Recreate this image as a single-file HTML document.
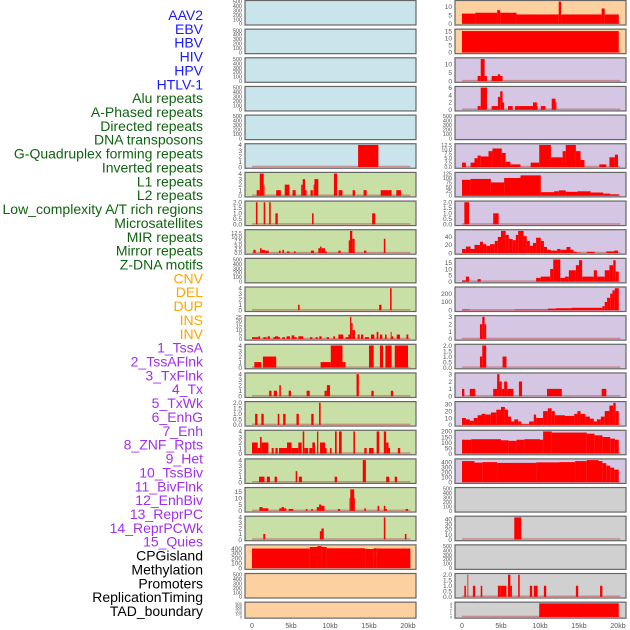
<!DOCTYPE html>
<html><head><meta charset="utf-8"><style>
html,body{margin:0;padding:0;background:#fff;}
svg{display:block;font-family:"Liberation Sans",sans-serif;}
</style></head><body>
<svg id="chart" width="630" height="630" viewBox="0 0 630 630" xmlns="http://www.w3.org/2000/svg"></svg>
<script>
// ---- data ----
const trackLabels = ["AAV2","EBV","HBV","HIV","HPV","HTLV-1","Alu repeats","A-Phased repeats","Directed repeats","DNA transposons","G-Quadruplex forming repeats","Inverted repeats","L1 repeats","L2 repeats","Low_complexity A/T rich regions","Microsatellites","MIR repeats","Mirror repeats","Z-DNA motifs","CNV","DEL","DUP","INS","INV","1_TssA","2_TssAFlnk","3_TxFlnk","4_Tx","5_TxWk","6_EnhG","7_Enh","8_ZNF_Rpts","9_Het","10_TssBiv","11_BivFlnk","12_EnhBiv","13_ReprPC","14_ReprPCWk","15_Quies","CPGisland","Methylation","Promoters","ReplicationTiming","TAD_boundary"];
const labelGroups = [6,13,5,15,5];
const labelColors = ["#1a1aff","#0f640f","#ffa500","#a030f0","#000000"];
const xTickLabels = ["0","5kb","10kb","15kb","20kb"];
const xTickValues = [0,5,10,15,20];
const t500 = [0,100,200,300,400,500];
const t4 = [0,1,2,3,4];
const t2 = [0,0.5,1.0,1.5,2.0];
// segments: [startKb, endKb, value]
const L5 = [[13.6,16.2,4]];
const L6 = [[0.6,1.0,1],[1.0,1.5,4],[1.5,1.6,2],[3.1,3.7,1],[4.2,4.8,2],[5.2,5.6,1],[6.3,6.5,2],[6.5,6.8,3],[6.8,7.0,1],[7.5,7.8,1],[7.9,8.0,2],[8.0,8.5,3],[10.5,10.9,4],[11.1,11.6,1],[12.9,13.2,1],[14.3,14.7,1],[16.5,17.9,1],[18.5,19.1,1]];
const L7 = [[0.5,0.7,2],[1.5,1.7,2],[2.2,2.4,2],[3.0,3.3,1],[7.7,7.9,1],[15.4,15.8,1]];
const L8 = [[0.17,0.47,2],[1.03,1.24,3],[1.24,1.67,2],[1.67,2.14,1.5],[3.46,3.67,1.5],[3.9,4.1,2],[4.49,4.8,1],[5.38,5.6,1],[7.56,7.95,1.5],[8.5,8.72,3],[8.72,8.93,4],[8.93,9.36,3],[9.36,9.6,1],[11.07,11.37,1.5],[12.4,12.56,8],[12.56,12.86,14],[12.86,13.16,9],[14.36,14.66,1.5],[16.9,17.1,9]];
const L10 = [[5.9,6.1,1],[16.3,16.6,1],[17.7,17.9,4]];
const L11 = [[0,0.81,2],[0.81,1.03,3],[1.45,1.88,2],[2.0,2.3,3],[2.74,2.95,2],[2.95,3.38,3],[3.38,3.59,2],[3.89,4.23,2],[4.44,4.87,3],[5.08,5.43,4],[5.43,5.73,2],[5.94,6.58,3],[7.44,7.74,2],[8.16,8.42,2],[8.63,8.93,3],[9.57,9.87,2],[10.43,10.64,3],[11.07,11.71,5],[12.0,12.35,2],[12.35,12.56,5],[12.56,12.73,25],[12.73,12.9,18],[12.9,13.2,10],[13.55,13.8,5],[13.97,14.27,5],[14.48,15.0,2],[15.25,15.68,5],[15.98,16.2,8],[16.4,16.7,5],[17.05,17.26,5],[17.78,17.9,8],[17.9,18.12,3],[18.55,18.97,5],[19.8,20.04,5]];
const L12 = [[0.3,1.2,1],[1.4,2.7,2],[2.7,3.1,2],[8.8,10.1,1],[10.1,11.6,4],[11.6,12.0,1],[15.0,15.6,4],[16.4,16.8,4],[17.1,17.9,4],[18.3,20.0,4]];
const L13 = [[2.2,2.5,1],[2.8,3.2,1],[3.5,3.7,2],[4.7,5.0,1],[7.0,7.4,1],[9.3,9.6,1],[9.6,10.0,2],[13.4,13.7,4],[15.3,15.6,1],[17.8,18.1,1]];
const L14 = [[0.4,0.7,1],[1.2,1.5,1],[3.3,3.5,1],[4.0,4.3,1],[5.7,6.0,1],[7.6,7.9,1],[8.6,8.8,2]];
const L15 = [[0,0.73,2],[0.73,1.03,1],[1.03,1.24,3],[1.24,2.1,2],[2.52,2.78,1],[3.0,3.3,1],[3.46,4.49,1],[4.49,5.08,2],[5.08,5.94,1],[5.94,6.37,2],[6.5,6.7,4],[6.7,7.2,1],[7.35,7.74,1],[7.74,8.08,2],[8.34,8.5,4],[8.72,9.36,2],[9.36,9.57,1],[9.99,10.2,1],[10.64,10.86,4],[11.15,11.5,4],[13.0,13.2,4],[14.4,14.7,1],[15.0,15.6,1],[15.98,16.3,4],[16.9,17.2,4],[17.2,17.5,2],[17.5,17.7,1],[18.7,19.0,1]];
const L16 = [[0.9,1.6,1],[1.9,2.3,1],[2.9,3.2,1],[5.6,5.8,2],[6.0,6.4,1],[10.6,10.9,1],[14.2,14.6,4],[17.2,17.6,1],[18.3,18.6,1]];
const L17 = [[0.95,1.35,3],[1.35,2.1,2],[3.5,3.8,2],[3.8,4.1,3],[4.1,4.4,2],[4.7,5.3,1.5],[6.9,7.1,1.5],[7.6,7.8,1.5],[8.3,8.6,3],[8.6,8.9,5],[8.9,9.3,4],[11.0,11.3,1.5],[12.5,12.6,10],[12.6,13.1,17],[13.1,13.2,10],[14.4,14.6,2],[16.1,16.3,4],[16.9,17.1,4],[17.1,17.3,1.5],[19.7,20.0,1.5]];
const L18 = [[1.45,1.7,1],[8.7,8.9,1.5],[8.9,9.2,2],[16.9,17.1,4],[19.6,19.8,1]];
const L19 = [[0,7.4,400],[7.4,8.4,430],[8.4,8.9,450],[8.9,9.6,430],[9.6,14.5,405],[14.5,15.6,390],[15.6,16.0,405],[16.0,20.3,400]];
const R0 = [[0,1.7,6],[1.7,4.5,6.5],[4.5,4.9,8],[4.9,7.0,6.5],[7.0,12.4,5.5],[12.4,12.7,13],[12.7,17.9,5.5],[17.9,18.3,9],[18.3,20.1,5.5]];
const R1 = [[0,20.1,15]];
const R2 = [[2.0,2.4,3],[2.4,2.9,13],[2.9,3.2,3],[3.8,4.6,3],[4.6,4.9,4],[4.9,5.2,3]];
const R3 = [[2.0,2.4,1],[2.4,3.2,6],[3.8,4.6,1],[4.6,4.9,3.5],[4.9,5.2,5],[5.2,5.4,2],[5.9,6.5,1],[6.8,9.7,1],[9.1,9.6,2],[10.1,10.7,1],[11.5,12.0,3],[12.0,12.1,2]];
const R5 = [[0,0.5,2.5],[1.1,1.6,2.5],[1.6,2.0,5],[2.0,2.4,6.5],[2.4,3.4,6],[3.4,3.9,9],[3.9,5.1,10.5],[5.1,5.6,8],[5.6,6.2,3],[6.2,7.5,1.5],[8.8,9.9,2.5],[9.9,11.4,12.5],[11.4,12.9,5.5],[12.9,13.3,9],[13.3,14.6,12.5],[14.6,15.2,9],[15.2,15.7,4],[17.6,18.5,1.5],[18.9,19.6,5.5],[19.6,20.0,7]];
const R6 = [[0,1.1,90],[1.1,3.7,95],[3.7,5.4,75],[5.4,7.5,100],[7.5,10.1,115],[10.1,11.8,20],[11.8,12.4,25],[12.4,13.3,30],[13.3,14.8,22],[14.8,16.5,25],[16.5,18.1,18],[18.1,19.0,12],[19.0,20.1,8]];
const R7 = [[0.3,0.9,2],[4.0,4.7,1]];
const R8 = [[0,0.5,10],[0.5,1.1,16],[1.1,1.6,10],[1.6,2.3,20],[2.3,2.7,28],[2.7,3.1,22],[3.1,3.6,18],[3.6,4.2,22],[4.2,4.6,30],[4.6,5.0,40],[5.0,5.6,55],[5.6,6.0,45],[6.0,6.5,35],[6.5,6.9,32],[6.9,7.2,45],[7.2,7.9,55],[7.9,8.3,42],[8.3,8.7,30],[8.7,9.1,18],[9.1,9.5,25],[9.5,10.1,38],[10.1,10.5,30],[10.5,10.9,15],[10.9,11.4,8],[11.4,12.2,6],[12.2,12.6,10],[12.6,13.4,8],[13.4,13.9,15],[13.9,14.3,8],[14.3,14.7,3],[14.7,15.2,1],[16.0,17.0,3],[18.5,19.5,4],[19.5,20.0,6]];
const R9 = [[0,0.5,1],[0.5,0.9,4],[2.0,2.4,2],[9.5,10.1,3],[10.1,11.3,4],[11.3,11.7,10],[11.7,12.6,17.5],[12.6,13.2,3],[13.2,13.7,4],[13.7,14.6,9],[14.6,15.0,13],[15.0,15.4,17],[15.4,16.9,4],[16.9,17.3,9],[17.3,18.3,4],[18.3,18.9,9],[18.9,19.4,13],[19.4,19.7,17],[19.7,20.1,8]];
const R10 = [[0,1.0,8],[1.0,6.8,2],[6.8,11.0,8],[11.0,12.0,20],[12.0,14.0,25],[14.0,18.0,30],[18.0,18.3,50],[18.3,18.6,100],[18.6,19.0,150],[19.0,19.3,200],[19.3,19.6,240],[19.6,20.1,265]];
const R11 = [[2.3,2.6,2],[2.6,2.9,3],[2.9,3.1,2]];
const R12 = [[2.3,2.6,1],[2.6,3.1,2],[5.2,5.7,1]];
const R13 = [[0,0.3,1],[1.0,1.7,1],[4.0,4.5,1],[4.5,4.8,3],[4.8,5.1,2],[5.1,5.4,1],[5.4,5.8,2],[5.8,6.6,1],[7.3,7.7,2],[10.9,12.8,1],[17.9,18.5,1]];
const R14 = [[0,0.5,10],[0.5,1.0,8],[1.0,1.5,6],[1.5,2.0,10],[2.0,2.5,14],[2.5,3.0,16],[3.0,3.7,15],[3.7,4.4,18],[4.4,5.0,22],[5.0,5.5,26],[5.5,5.9,22],[5.9,6.3,12],[6.3,6.7,5],[6.7,7.2,8],[7.2,7.6,5],[7.6,8.6,1],[8.6,9.2,5],[9.2,9.5,15],[9.5,10.4,10],[10.4,11.0,20],[11.0,11.5,24],[11.5,11.9,20],[11.9,13.2,14],[13.2,14.4,13],[14.4,14.8,16],[14.8,15.2,20],[15.2,15.8,16],[15.8,16.4,12],[16.4,16.9,9],[16.9,17.3,5],[17.3,17.8,8],[17.8,18.3,12],[18.3,18.9,20],[18.9,19.4,28],[19.4,19.7,32],[19.7,20.1,20]];
const R15 = [[0,1.2,125],[1.2,5.0,130],[5.0,6.0,120],[6.0,7.0,115],[7.0,8.0,125],[8.0,10.0,130],[10.0,10.4,125],[10.4,11.5,200],[11.5,16.0,190],[16.0,17.0,180],[17.0,18.0,165],[18.0,19.0,150],[19.0,19.6,135],[19.6,20.1,125]];
const R16 = [[0,1.6,420],[1.6,2.6,390],[2.6,4.5,400],[4.5,9.5,385],[9.5,12.5,395],[12.5,14.5,400],[14.5,16.0,420],[16.0,17.5,440],[17.5,18.0,420],[18.0,18.5,380],[18.5,19.0,330],[19.0,19.5,290],[19.5,20.1,250]];
const R18 = [[6.7,7.6,44]];
const R20 = [[0.3,0.5,1],[0.7,0.8,2],[1.4,1.7,1],[2.4,2.6,1],[4.6,4.9,1],[4.9,5.7,1],[5.9,6.2,2],[6.2,6.4,1],[7.2,7.4,2],[8.7,9.0,1],[9.2,9.7,1],[10.5,10.8,1],[14.6,14.9,1],[17.7,18.0,1]];
const R21 = [[9.9,20.1,4]];

const BLUE="#c9e4eb", GREEN="#c8e0a5", ORANGE="#fdd09f", PURPLE="#d5c6e3", GRAY="#d0d0d0";
// [col,row,bg,data,ticks,max]
const panels = [
 [0,0,BLUE,null,t500,500],[0,1,BLUE,null,t500,500],[0,2,BLUE,null,t500,500],[0,3,BLUE,null,t500,500],[0,4,BLUE,null,t500,500],
 [0,5,BLUE,L5,t4,4],[0,6,GREEN,L6,t4,4],[0,7,GREEN,L7,t2,2],[0,8,GREEN,L8,[0,2.5,5,7.5,10,12.5],14],[0,9,GREEN,null,t500,500],
 [0,10,GREEN,L10,t4,4],[0,11,GREEN,L11,[0,5,10,15,20,25],25],[0,12,GREEN,L12,t4,4],[0,13,GREEN,L13,t4,4],[0,14,GREEN,L14,t2,2],
 [0,15,GREEN,L15,t4,4],[0,16,GREEN,L16,t4,4],[0,17,GREEN,L17,[0,5,10,15],17.5],[0,18,GREEN,L18,t4,4],
 [0,19,ORANGE,L19,[0,100,200,300,400],450],[0,20,ORANGE,null,t500,500],[0,21,ORANGE,null,t500,500],
 [1,0,ORANGE,R0,[0,5,10],13],[1,1,ORANGE,R1,[0,5,10,15],15.5],[1,2,PURPLE,R2,[0,5,10],13],[1,3,PURPLE,R3,[0,2,4,6],6],
 [1,4,PURPLE,null,t500,500],[1,5,PURPLE,R5,[0,2.5,5,7.5,10,12.5],12.5],[1,6,PURPLE,R6,[0,25,50,75,100,125],125],[1,7,PURPLE,R7,t2,2],
 [1,8,PURPLE,R8,[0,20,40],55],[1,9,PURPLE,R9,[0,5,10,15],17.5],[1,10,PURPLE,R10,[0,100,200],265],[1,11,PURPLE,R11,[0,1,2,3],3],
 [1,12,PURPLE,R12,t2,2],[1,13,PURPLE,R13,[0,1,2,3],3],[1,14,PURPLE,R14,[0,10,20,30],32],[1,15,PURPLE,R15,[0,50,100,150,200],200],
 [1,16,PURPLE,R16,[0,100,200,300,400],440],[1,17,GRAY,null,t500,500],[1,18,GRAY,R18,[0,10,20,30,40],44],[1,19,GRAY,null,t500,500],
 [1,20,GRAY,R20,t2,2],[1,21,GRAY,R21,t4,4]
];

const NS="http://www.w3.org/2000/svg";
const svg=document.getElementById('chart');
function el(tag,attrs,parent){const e=document.createElementNS(NS,tag);for(const k in attrs)e.setAttribute(k,attrs[k]);(parent||svg).appendChild(e);return e;}

// labels
let gi=0, cnt=0;
const lg=el('g',{});


trackLabels.forEach((t,i)=>{
  while(cnt>=labelGroups[gi]){cnt=0;gi++;}
  cnt++;
  const y=15+i*(596/43)+5;
  const tx=el('text',{x:203,y:y.toFixed(1),'text-anchor':'end','font-size':'14',fill:labelColors[gi]},lg);
  tx.textContent=t;
  
  
});

const colX=[245,455], W=171, X0off=7, PXKB=7.8;
function xScale(col,kb){return colX[col]+X0off+kb*PXKB;}
panels.forEach(p=>{
  const [col,row,bg,data,ticks,max]=p;
  const top=row*28.65+0.5;
  const h=row===21?16:24.5;
  const g=el('g',{});
  
  
  el('rect',{x:colX[col],y:top,width:W,height:h,fill:bg},g);
  const y0=top+h-1.2, y1=top+1.2;
  const yS=v=>y0-(v/max)*(y0-y1);
  if(data){
    el('line',{x1:xScale(col,0),x2:xScale(col,20.3),y1:y0-0.5,y2:y0-0.5,stroke:'#c07070','stroke-width':1.5,'stroke-opacity':0.7},g);
    data.forEach(s=>{
      const r=el('rect',{x:xScale(col,s[0]).toFixed(2),y:yS(s[2]).toFixed(2),width:Math.max(0.8,(s[1]-s[0])*PXKB).toFixed(2),height:(y0-yS(s[2])).toFixed(2),fill:'#ff0000'},g);
      
      
    });
  }
  el('rect',{x:colX[col],y:top,width:W,height:h,fill:'none',stroke:'#666','stroke-width':1.2},g);
  const fs=row===21?4:(ticks.length>5?5.5:6.5);
  const dec=ticks.some(t=>t%1!==0);
  ticks.forEach(t=>{
    const tt=el('text',{x:colX[col]-3,y:(yS(t)+fs*0.35).toFixed(1),'text-anchor':'end','font-size':fs,fill:'#555'},g);
    tt.textContent=dec?t.toFixed(1):String(t);
    
    
  });
});
// x axes
[0,1].forEach(col=>{
  xTickValues.forEach((v,i)=>{
    const t=el('text',{x:xScale(col,v),y:628,'text-anchor':'middle','font-size':7,fill:'#555'});
    t.textContent=xTickLabels[i];
    
    
  });
});
</script>
</body></html>
